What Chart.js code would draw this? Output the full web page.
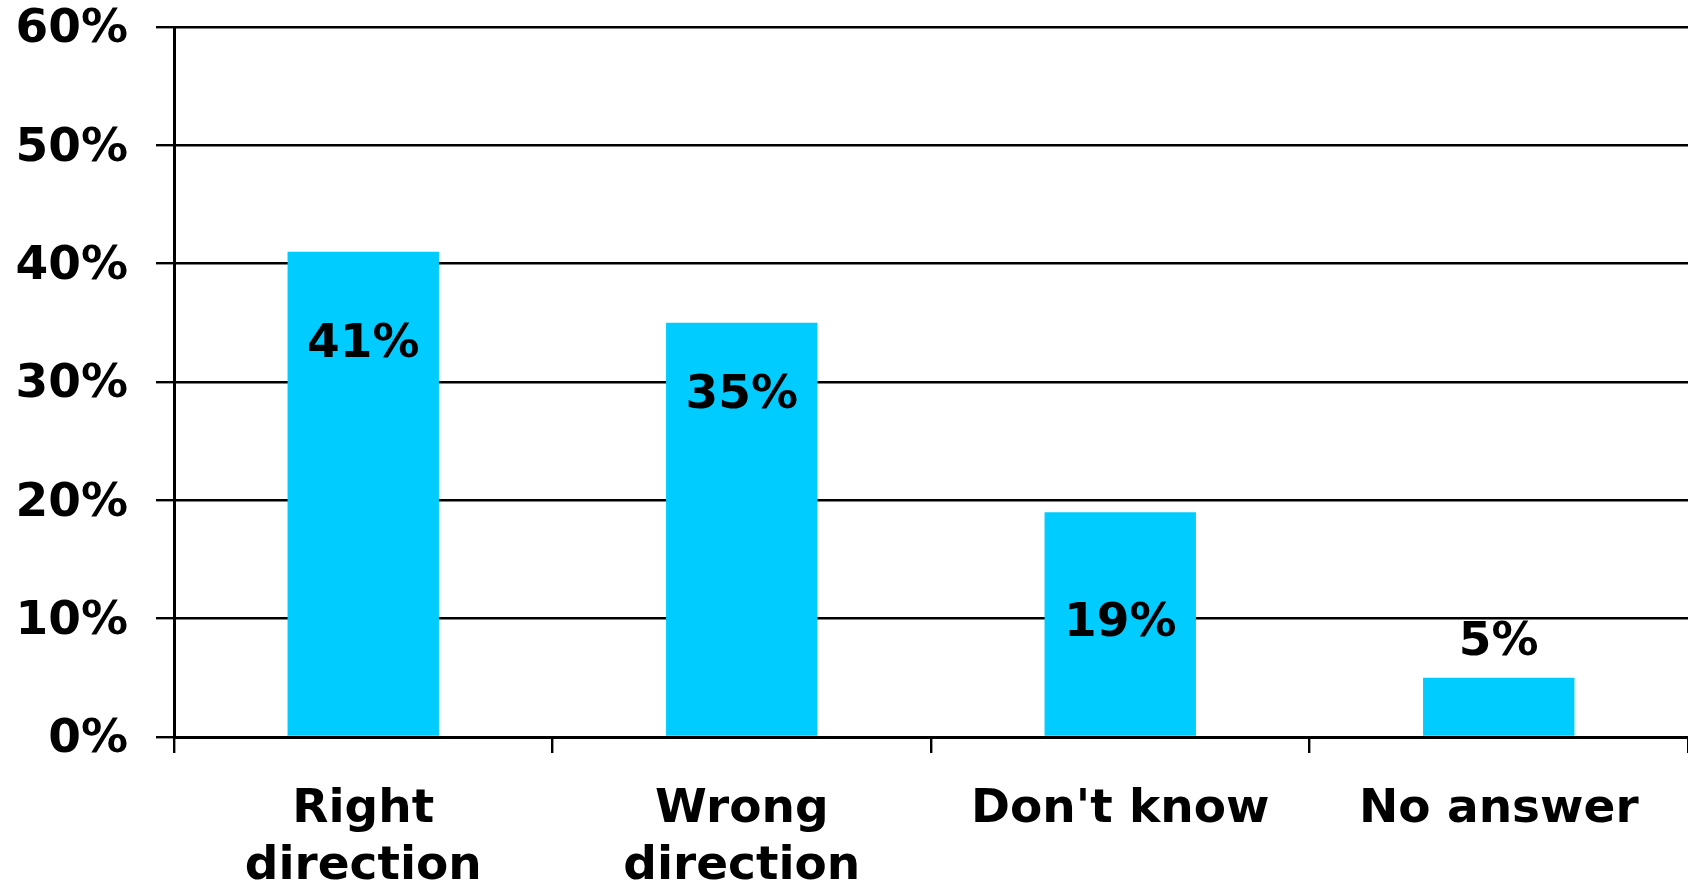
<!DOCTYPE html>
<html>
<head>
<meta charset="utf-8">
<script src="https://cdn.jsdelivr.net/npm/chart.js@4"></script>
<style>
  html, body { margin: 0; padding: 0; background: #fff; }
  .wrap { width: 1688px; height: 888px; position: relative; }
</style>
</head>
<body>
<div class="wrap"><canvas id="chart"></canvas></div>
<script>
const categories = [['Right', 'direction'], ['Wrong', 'direction'], "Don't know", 'No answer'];
const shares = [41, 35, 19, 5];
const yTicks = [0, 10, 20, 30, 40, 50, 60];

// label offset from the bar top, in px (positive = inside the bar)
const labelOffsets = [93, 73, 112, -35];

const FONT = { family: '"DejaVu Sans", sans-serif', size: 47, weight: 'bold', lineHeight: 1.21 };

const valueLabels = {
  id: 'valueLabels',
  afterDatasetsDraw(chart) {
    const { ctx } = chart;
    const meta = chart.getDatasetMeta(0);
    ctx.save();
    ctx.font = 'bold 47px "DejaVu Sans", sans-serif';
    ctx.fillStyle = '#000';
    ctx.textAlign = 'center';
    ctx.textBaseline = 'middle';
    meta.data.forEach((bar, i) => {
      ctx.fillText(shares[i] + '%', bar.x, bar.y + labelOffsets[i]);
    });
    ctx.restore();
  }
};

new Chart(document.getElementById('chart'), {
  type: 'bar',
  data: {
    labels: categories,
    datasets: [{
      data: shares,
      backgroundColor: '#00CCFF',
      borderWidth: 0,
      categoryPercentage: 0.4,
      barPercentage: 1
    }]
  },
  options: {
    responsive: true,
    maintainAspectRatio: false,
    animation: false,
    layout: { padding: 0 },
    plugins: {
      legend: { display: false },
      tooltip: { enabled: false }
    },
    scales: {
      x: {
        grid: {
          offset: true,
          drawOnChartArea: false,
          drawTicks: true,
          tickLength: 16,
          color: '#000',
          lineWidth: 2.4
        },
        border: { color: '#000', width: 3 },
        ticks: {
          color: '#000',
          font: FONT,
          padding: 28,
          maxRotation: 0,
          autoSkip: false
        },
        afterFit(scale) { scale.height = 151; scale.paddingLeft = 0; scale.paddingRight = 0; }
      },
      y: {
        min: 0,
        max: 60,
        afterBuildTicks(scale) { scale.ticks = yTicks.map(v => ({ value: v })); },
        grid: {
          color: '#000',
          lineWidth: 2.4,
          tickLength: 18
        },
        border: { color: '#000', width: 3 },
        ticks: {
          color: '#000',
          font: FONT,
          padding: 28,
          labelOffset: 3,
          callback: v => v + '%'
        },
        afterFit(scale) { scale.width = 174; scale.paddingTop = 27; scale.paddingBottom = 0; }
      }
    }
  },
  plugins: [valueLabels]
});
</script>
</body>
</html>
